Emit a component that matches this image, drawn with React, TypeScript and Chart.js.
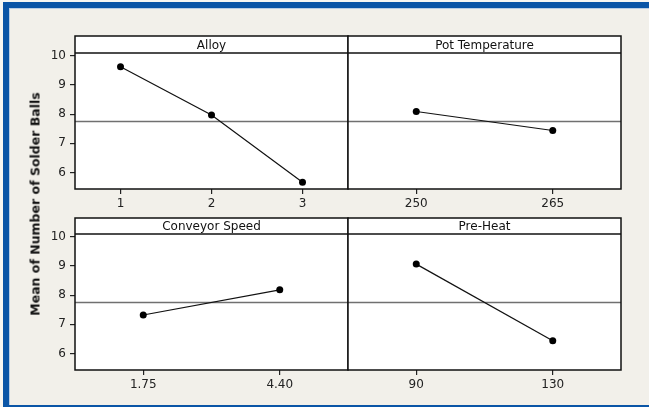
import { useEffect, useRef } from "react";
import { Chart, registerables } from "chart.js";

Chart.register(...registerables);

// Factor levels and the mean number of solder balls at each level
const alloyLevels = ["1", "2", "3"];
const alloyMeans = [9.62, 7.97, 5.67];
const potTempLevels = ["250", "265"];
const potTempMeans = [8.09, 7.44];
const conveyorLevels = ["1.75", "4.40"];
const conveyorMeans = [7.32, 8.18];
const preHeatLevels = ["90", "130"];
const preHeatMeans = [9.06, 6.44];

// Overall mean drawn as the reference line in every panel
const grandMean = 7.76;

// Shared y axis
const yTicks = [6, 7, 8, 9, 10];
const yMin = 5.44;
const yMax = 10.09;
const yTitle = "Mean of Number of Solder Balls";

const W = 649;
const H = 407;
const FONT = "'DejaVu Sans', Verdana, sans-serif";

type PanelCfg = {
  title: string;
  labels: string[];
  values: number[];
  left: number;
  right: number;
  headerTop: number;
  top: number;
  bottom: number;
  showY: boolean;
};

const panels: PanelCfg[] = [
  { title: "Alloy", labels: alloyLevels, values: alloyMeans, left: 75, right: 348, headerTop: 36, top: 53, bottom: 189, showY: true },
  { title: "Pot Temperature", labels: potTempLevels, values: potTempMeans, left: 348, right: 621, headerTop: 36, top: 53, bottom: 189, showY: false },
  { title: "Conveyor Speed", labels: conveyorLevels, values: conveyorMeans, left: 75, right: 348, headerTop: 218, top: 234, bottom: 370, showY: true },
  { title: "Pre-Heat", labels: preHeatLevels, values: preHeatMeans, left: 348, right: 621, headerTop: 218, top: 234, bottom: 370, showY: false },
];

const Y_AXIS_W = 30;
const X_AXIS_H = 25;

function makeFramePlugin(cfg: PanelCfg) {
  return {
    id: "panelFrame",
    beforeDraw(chart: any) {
      const { ctx, chartArea } = chart;
      ctx.save();
      ctx.fillStyle = "#ffffff";
      ctx.fillRect(chartArea.left, cfg.headerTop, chartArea.right - chartArea.left, chartArea.bottom - cfg.headerTop);
      ctx.restore();
    },
    beforeDatasetsDraw(chart: any) {
      const { ctx, chartArea, scales } = chart;
      const y = Math.round(scales.y.getPixelForValue(grandMean)) + 0.5;
      ctx.save();
      ctx.strokeStyle = "#707070";
      ctx.lineWidth = 1.3;
      ctx.beginPath();
      ctx.moveTo(chartArea.left, y);
      ctx.lineTo(chartArea.right, y);
      ctx.stroke();
      ctx.restore();
    },
    afterDraw(chart: any) {
      const { ctx, chartArea } = chart;
      ctx.save();
      ctx.strokeStyle = "#111111";
      ctx.lineWidth = 1.5;
      ctx.strokeRect(chartArea.left, cfg.headerTop, chartArea.right - chartArea.left, chartArea.bottom - cfg.headerTop);
      ctx.beginPath();
      ctx.moveTo(chartArea.left, chartArea.top);
      ctx.lineTo(chartArea.right, chartArea.top);
      ctx.stroke();
      ctx.fillStyle = "#111111";
      ctx.font = `12px ${FONT}`;
      ctx.textAlign = "center";
      ctx.textBaseline = "middle";
      ctx.fillText(cfg.title, (chartArea.left + chartArea.right) / 2, (cfg.headerTop + chartArea.top) / 2 + 1);
      ctx.restore();
    },
  };
}

function buildChart(canvas: HTMLCanvasElement, cfg: PanelCfg) {
  const padLeft = cfg.showY ? cfg.left - Y_AXIS_W : cfg.left;
  return new Chart(canvas, {
    type: "line",
    data: {
      labels: cfg.labels,
      datasets: [
        {
          data: cfg.values,
          borderColor: "#111111",
          backgroundColor: "#000000",
          borderWidth: 1.2,
          pointRadius: 3.5,
          pointBackgroundColor: "#000000",
          pointBorderColor: "#000000",
          pointBorderWidth: 0,
          tension: 0,
          fill: false,
        },
      ],
    },
    options: {
      responsive: false,
      animation: false,
      devicePixelRatio: 1,
      events: [],
      layout: {
        padding: {
          left: padLeft,
          right: W - cfg.right,
          top: cfg.top,
          bottom: H - cfg.bottom - X_AXIS_H,
        },
      },
      plugins: {
        legend: { display: false },
        tooltip: { enabled: false },
        title: { display: false },
      },
      scales: {
        x: {
          type: "category",
          offset: true,
          border: { display: false },
          grid: {
            display: true,
            drawOnChartArea: false,
            drawTicks: true,
            tickLength: 5,
            color: "#222222",
            lineWidth: 1.2,
          },
          ticks: {
            color: "#222222",
            font: { family: FONT, size: 12 },
            padding: 3,
            maxRotation: 0,
            autoSkip: false,
          },
          afterFit(scale: any) {
            scale.height = X_AXIS_H;
          },
        },
        y: {
          type: "linear",
          display: cfg.showY,
          min: yMin,
          max: yMax,
          border: { display: false },
          grid: {
            display: true,
            drawOnChartArea: false,
            drawTicks: true,
            tickLength: 5,
            color: "#222222",
            lineWidth: 1.2,
          },
          ticks: {
            color: "#222222",
            font: { family: FONT, size: 12 },
            padding: 4,
          },
          afterBuildTicks(axis: any) {
            axis.ticks = yTicks.map((v) => ({ value: v }));
          },
          afterFit(scale: any) {
            scale.width = cfg.showY ? Y_AXIS_W : 0;
          },
        },
      },
    },
    plugins: [makeFramePlugin(cfg)],
  } as any);
}

export default function App() {
  const refs = [
    useRef<HTMLCanvasElement>(null),
    useRef<HTMLCanvasElement>(null),
    useRef<HTMLCanvasElement>(null),
    useRef<HTMLCanvasElement>(null),
  ];

  useEffect(() => {
    const charts = panels.map((cfg, i) => buildChart(refs[i].current as HTMLCanvasElement, cfg));
    return () => charts.forEach((c) => c.destroy());
  }, []);

  return (
    <div
      style={{
        position: "fixed",
        left: 0,
        top: 0,
        width: W,
        height: H,
        overflow: "hidden",
        background: "#f7f6f2",
      }}
    >
      {/* blue frame around the figure */}
      <div
        style={{
          position: "absolute",
          left: 3,
          top: 2,
          width: 700,
          height: H - 2,
          background: "#0a55a6",
        }}
      />
      <div
        style={{
          position: "absolute",
          left: 9,
          top: 8,
          width: 700,
          height: 405 - 8,
          background: "#f2f0ea",
          borderLeft: "1px solid #b9cde3",
          borderTop: "1px solid #b9cde3",
          boxSizing: "border-box",
        }}
      />
      {panels.map((_, i) => (
        <canvas
          key={i}
          ref={refs[i]}
          width={W}
          height={H}
          style={{ position: "absolute", left: 0, top: 0, width: W, height: H }}
        />
      ))}
      <div
        style={{
          position: "absolute",
          left: 35,
          top: 204,
          transform: "translate(-50%, -50%) rotate(-90deg)",
          whiteSpace: "nowrap",
          fontFamily: FONT,
          fontWeight: "bold",
          fontSize: 12.5,
          color: "#111111",
        }}
      >
        {yTitle}
      </div>
    </div>
  );
}
